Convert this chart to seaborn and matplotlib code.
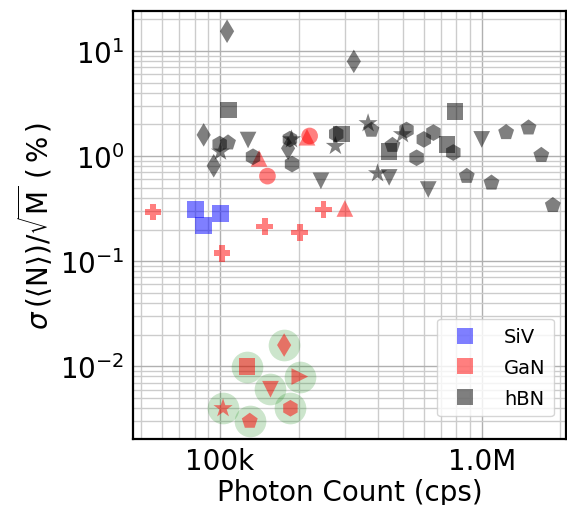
import numpy as np
import pandas as pd
import matplotlib
matplotlib.use("Agg")
import matplotlib.pyplot as plt
from matplotlib.ticker import FixedLocator, FuncFormatter, NullFormatter, LogLocator
from matplotlib.lines import Line2D
import seaborn as sns

# --- data ---
# hBN emitters
hbn_x = [106.4e3, 324.6e3, 108e3, 86.6e3, 99.7e3, 107.3e3, 100.4e3, 94.6e3, 128e3, 133.7e3,
         187.6e3, 185e3, 182e3, 188.5e3, 243e3, 278e3, 291e3, 276e3, 368e3, 379e3,
         400e3, 443e3, 443e3, 456e3, 498e3, 516e3, 564e3, 601e3, 654e3, 625e3,
         791e3, 738e3, 779e3, 1.0e6, 877e3, 1.09e6, 1.24e6, 1.51e6, 1.69e6, 1.87e6]
hbn_y = [15.4, 7.96, 2.75, 1.59, 1.30, 1.34, 1.10, 0.808, 1.42, 0.985,
         1.44, 1.45, 1.185, 0.839, 0.581, 1.62, 1.62, 1.246, 2.05, 1.77,
         0.684, 0.626, 1.10, 1.27, 1.61, 1.77, 0.963, 1.44, 1.67, 0.48,
         2.65, 1.29, 1.08, 1.44, 0.644, 0.556, 1.68, 1.86, 1.02, 0.34]
hbn_m = ['d', 'd', 's', 'd', 'h', 'p', '*', 'd', 'v', 'h',
         '*', 'h', 'd', 'h', 'v', 'h', 's', '*', '*', 'p',
         '*', 'v', 's', 'p', '*', 'h', 'h', 'h', 'h', 'v',
         's', 's', 'h', 'v', 'p', 'p', 'p', 'p', 'p', 'p']

# GaN emitters (last seven are the highlighted ones)
gan_x = [55.4e3, 101.8e3, 148.3e3, 201.8e3, 249e3, 300e3, 141e3, 151.8e3, 220e3, 215e3,
         175.8e3, 126.8e3, 201.8e3, 155.9e3, 185.8e3, 102.7e3, 129.9e3]
gan_y = [0.294, 0.119, 0.2145, 0.187, 0.31, 0.317, 0.95, 0.644, 1.553, 1.51,
         0.0159, 0.0099, 0.00797, 0.00604, 0.00398, 0.00398, 0.00301]
gan_m = ['P', 'P', 'P', 'P', 'P', '^', '^', 'o', 'o', '^',
         'd', 's', '>', 'v', 'h', '*', 'p']
gan_hl = [False] * 10 + [True] * 7

# SiV emitters
siv_x = [80.5e3, 86.6e3, 100.4e3]
siv_y = [0.312, 0.219, 0.284]
siv_m = ['s', 's', 's']

materials = ['SiV', 'GaN', 'hBN']
colors = {'SiV': '#0000ff', 'GaN': '#ff0000', 'hBN': '#000000'}

df = pd.concat([
    pd.DataFrame({'x': siv_x, 'y': siv_y, 'marker': siv_m, 'material': 'SiV', 'hl': False}),
    pd.DataFrame({'x': gan_x, 'y': gan_y, 'marker': gan_m, 'material': 'GaN', 'hl': gan_hl}),
    pd.DataFrame({'x': hbn_x, 'y': hbn_y, 'marker': hbn_m, 'material': 'hBN', 'hl': False}),
], ignore_index=True)

sns.set_style("white")
plt.rcParams['font.family'] = ['DejaVu Sans']
plt.rcParams['mathtext.fontset'] = 'dejavusans'
for k in ['text.color', 'axes.labelcolor', 'xtick.color', 'ytick.color', 'axes.edgecolor']:
    plt.rcParams[k] = 'black'

fig = plt.figure(figsize=(5.67, 5.06), dpi=100)
ax = fig.add_axes([133 / 567, 66 / 506, 433 / 567, 428 / 506])

# green halo behind highlighted emitters
sns.scatterplot(data=df[df['hl']], x='x', y='y', color='g', alpha=0.2, s=520,
                linewidth=0, legend=False, ax=ax, zorder=2)

mk = {m: m for m in df['marker'].unique()}
sz = {m: (210 if m == '*' else 144) for m in df['marker'].unique()}
sns.scatterplot(data=df, x='x', y='y', hue='material', style='marker', markers=mk,
                size='marker', sizes=sz, palette=colors, alpha=0.5, linewidth=0,
                legend=False, ax=ax, zorder=3)

ax.set_xscale('log')
ax.set_yscale('log')
ax.set_xlim(4.65e4, 2.1e6)
ax.set_ylim(2.03e-3, 24)

ax.xaxis.set_major_locator(FixedLocator([1e5, 1e6]))
ax.xaxis.set_major_formatter(FuncFormatter(lambda v, p: '100k' if v < 5e5 else '1.0M'))
ax.xaxis.set_minor_locator(LogLocator(base=10, subs=np.arange(2, 10)))
ax.xaxis.set_minor_formatter(NullFormatter())
ax.yaxis.set_minor_locator(LogLocator(base=10, subs=np.arange(2, 10), numticks=20))
ax.yaxis.set_minor_formatter(NullFormatter())

ax.grid(True, which='major', color='#b0b0b0', linewidth=1.0, zorder=0)
ax.grid(True, which='minor', color='#cccccc', linewidth=1.0, zorder=0)
ax.set_axisbelow(True)

ax.tick_params(which='major', direction='in', length=8, width=1.5, labelsize=20,
               pad=6, colors='black')
ax.tick_params(which='minor', direction='in', length=4, width=1.0, colors='black')
for s in ax.spines.values():
    s.set_linewidth(1.6)
    s.set_color('black')

ax.set_xlabel('Photon Count (cps)', fontsize=20, labelpad=2, color='black')
ax.set_ylabel(r'$\sigma\,(\langle\mathrm{N}\rangle)/\sqrt{\mathrm{M}}\ (\,\%\,)$', fontsize=20,
              labelpad=4, color='black')

handles = [Line2D([], [], marker='s', linestyle='none', markersize=12, markeredgewidth=0,
                  color=colors[m], alpha=0.5, label=m) for m in materials]
leg = ax.legend(handles=handles, loc='lower right', bbox_to_anchor=(0.995, 0.03), fontsize=14,
                frameon=True, labelspacing=0.6, handletextpad=1.0, borderpad=0.45)
for t in leg.get_texts():
    t.set_color('black')

fig.savefig('out.png', dpi=100)
